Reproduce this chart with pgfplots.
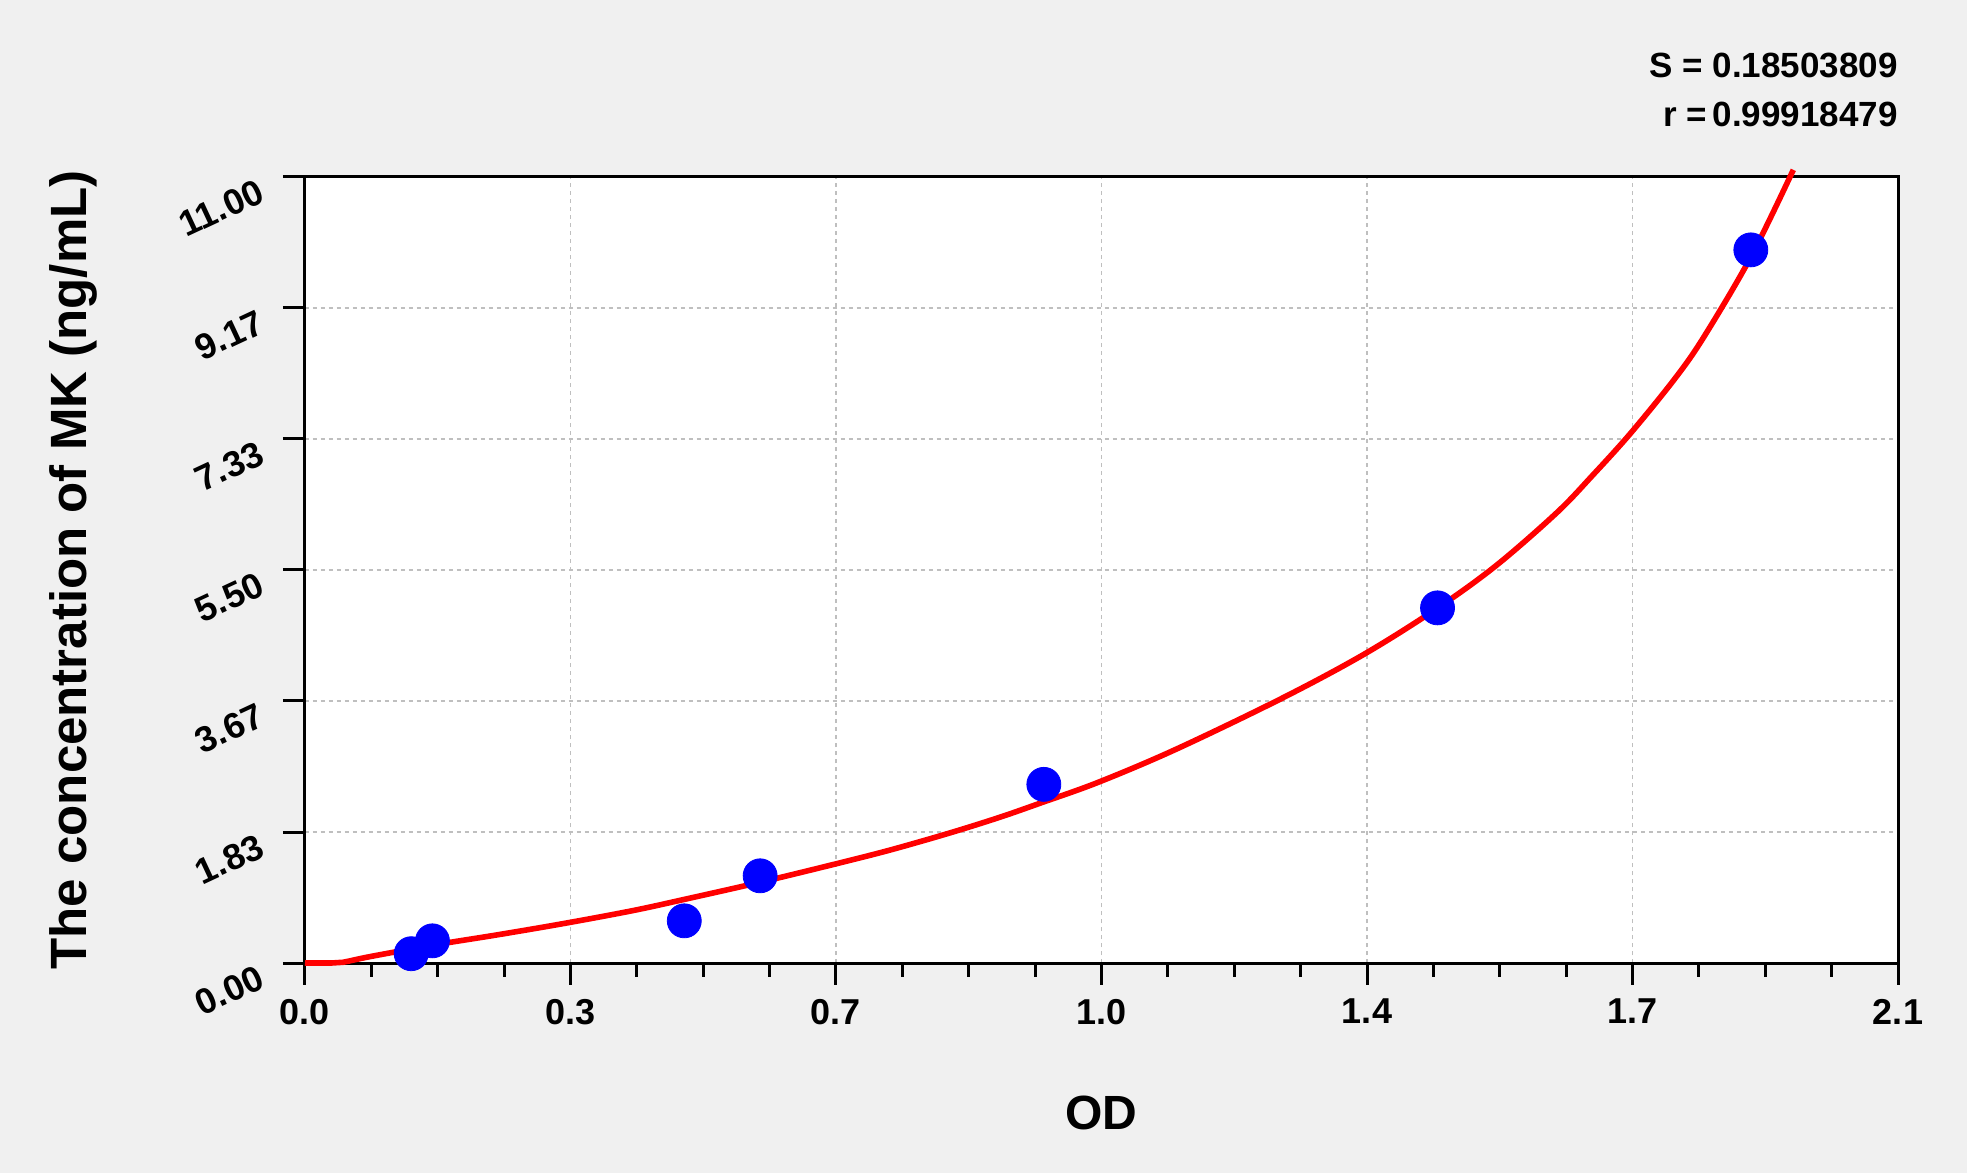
\documentclass[border=0pt]{standalone}
\usepackage{fontspec}
\setmainfont{Liberation Sans}
\usepackage{pgfplots}
\pgfplotsset{compat=1.18}
\definecolor{bg}{RGB}{240,240,240}
\begin{document}
\begin{tikzpicture}
\useasboundingbox (-152.5pt,-105pt) rectangle (831pt,481.5pt);
\fill[bg] (-152.5pt,-105pt) rectangle (831pt,481.5pt);
\begin{axis}[
  at={(0,0)}, anchor=south west,
  scale only axis, width=796.5pt, height=393pt,
  xmin=0, xmax=2.1, ymin=0, ymax=11,
  clip=false,
  axis background/.style={fill=white},
  axis line style={line width=1.5pt, black},
  xtick={0,0.35,0.7,1.05,1.4,1.75,2.1},
  xticklabels={0.0,0.3,0.7,1.0,1.4,1.7,2.1},
  ytick={0,1.83333,3.66667,5.5,7.33333,9.16667,11},
  yticklabels={0.00,1.83,3.67,5.50,7.33,9.17,11.00},
  minor tick num=3,
  tick align=outside, tick pos=left,
  major tick length=11pt, minor tick length=7pt,
  tick style={line width=1.5pt, black},
  minor tick style={line width=1.5pt, black},
  grid=major,
  major grid style={gray!50, line width=0.6pt, dash pattern=on 2pt off 2pt},
  tick label style={font=\bfseries\fontsize{18}{20}\selectfont},
  xticklabel style={yshift=-3.5pt},
  yticklabel style={rotate=25, anchor=east, xshift=-9pt, yshift=-1pt},
  xlabel={OD},
  ylabel={The concentration of MK (ng/mL)},
  every axis x label/.style={at={(axis description cs:0.5,-0.1908)}, anchor=center, font=\bfseries\fontsize{24}{28}\selectfont},
  every axis y label/.style={at={(axis description cs:-0.1456,0.5)}, rotate=90, anchor=center, font=\bfseries\fontsize{25.5}{28}\selectfont},
]
\addplot[red, line width=2.8pt, smooth, tension=0.55, line join=round] coordinates {
(0,0) (0.035,0) (0.05,0.01) (0.086,0.09) (0.169,0.25) (0.257,0.40)
(0.345,0.56) (0.433,0.735) (0.5,0.89) (0.6,1.13) (0.697,1.38)
(0.771,1.58) (0.85,1.82) (0.916,2.04) (0.97,2.24) (1.046,2.53)
(1.148,2.99) (1.287,3.70) (1.396,4.32) (1.492,4.96) (1.57,5.56)
(1.65,6.30) (1.697,6.82) (1.748,7.42) (1.806,8.18) (1.844,8.76)
(1.906,9.88) (1.962,11.10)
};
\addplot[only marks, blue, mark=*, mark size=8.5pt, mark options={fill=blue, draw=blue}] coordinates {
(0.140,0.13) (0.168,0.31) (0.500,0.59) (0.600,1.22) (0.974,2.5) (1.493,4.97) (1.906,9.98)
};
\node[anchor=base east, inner sep=0pt, font=\bfseries\fontsize{17.5}{20}\selectfont] at (rel axis cs:1,1) [yshift=49.6pt] {S = 0.18503809};
\node[anchor=base east, inner sep=0pt, font=\bfseries\fontsize{17.5}{20}\selectfont] at (rel axis cs:1,1) [yshift=25.1pt] {r =\,0.99918479};
\end{axis}
\end{tikzpicture}
\end{document}
